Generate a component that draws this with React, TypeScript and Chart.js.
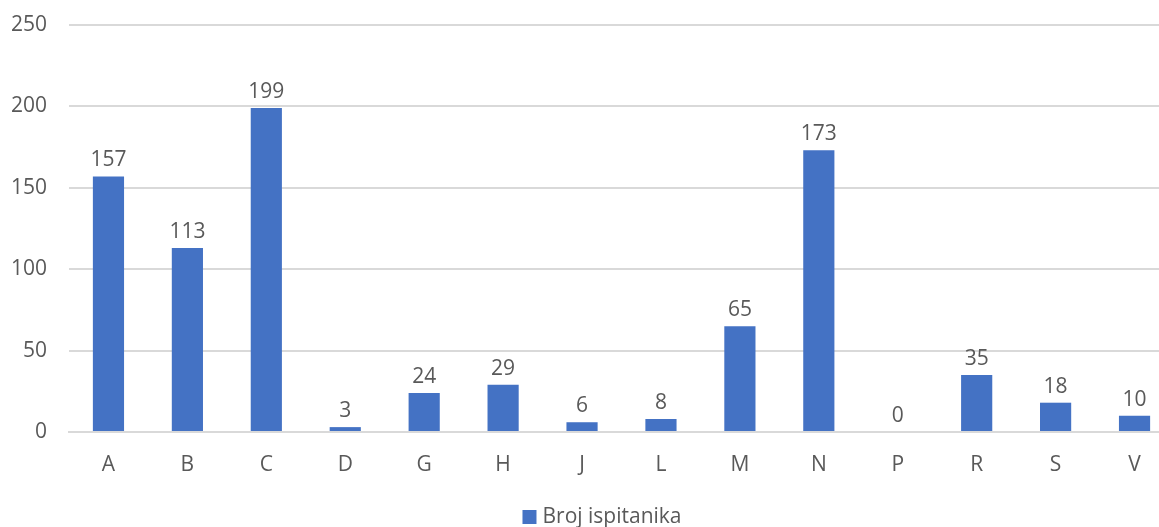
import React, { useEffect, useRef } from "react";
import { Chart, registerables } from "chart.js";

Chart.register(...registerables);

const categories = ["A", "B", "C", "D", "G", "H", "J", "L", "M", "N", "P", "R", "S", "V"];
const values = [157, 113, 199, 3, 24, 29, 6, 8, 65, 173, 0, 35, 18, 10];
const seriesName = "Broj ispitanika";
const yTicks = [0, 50, 100, 150, 200, 250];

const FONT = "'Open Sans', sans-serif";
const TEXT = "#595959";
const BAR = "#4472C4";
const FS = 21;

const dataLabels = {
  id: "dataLabels",
  afterDatasetsDraw(chart: any) {
    const ctx = chart.ctx;
    const meta = chart.getDatasetMeta(0);
    ctx.save();
    ctx.font = `${FS}px ${FONT}`;
    ctx.fillStyle = TEXT;
    ctx.textAlign = "center";
    ctx.textBaseline = "alphabetic";
    meta.data.forEach((bar: any, i: number) => {
      ctx.fillText(String(values[i]), bar.x, bar.y - 10);
    });
    ctx.restore();
  },
};

const customLegend = {
  id: "customLegend",
  afterDraw(chart: any) {
    const ctx = chart.ctx;
    ctx.save();
    ctx.font = `${FS}px ${FONT}`;
    const w = ctx.measureText(seriesName).width;
    const box = 14;
    const gap = 6;
    const total = box + gap + w;
    const cx = chart.width / 2;
    const x0 = cx - total / 2;
    const baseY = 523;
    ctx.fillStyle = BAR;
    ctx.fillRect(x0, 510, box, box);
    ctx.fillStyle = TEXT;
    ctx.textAlign = "left";
    ctx.textBaseline = "alphabetic";
    ctx.fillText(seriesName, x0 + box + gap, baseY);
    ctx.restore();
  },
};

export default function App() {
  const ref = useRef<HTMLCanvasElement>(null);
  useEffect(() => {
    document.body.style.margin = "0";
    const chart = new Chart(ref.current!, {
      type: "bar",
      data: {
        labels: categories,
        datasets: [
          {
            label: seriesName,
            data: values,
            backgroundColor: BAR,
            barPercentage: 0.395,
            categoryPercentage: 1,
          },
        ],
      },
      options: {
        animation: false,
        responsive: false,
        layout: { padding: { top: 25, right: 30, left: 0, bottom: 0 } },
        plugins: {
          legend: { display: false },
          tooltip: { enabled: false },
        },
        scales: {
          x: {
            grid: { display: false, drawTicks: false },
            border: { color: "#D9D9D9", width: 2 },
            ticks: { font: { family: FONT, size: FS }, color: TEXT, padding: 20 },
            afterFit: (s: any) => {
              s.height = 95;
              s.paddingLeft = 0;
              s.paddingRight = 0;
            },
          },
          y: {
            min: 0,
            max: 250,
            afterBuildTicks: (s: any) => {
              s.ticks = yTicks.map((v) => ({ value: v }));
            },
            grid: { color: "#D9D9D9", lineWidth: 2, drawTicks: false },
            border: { display: false },
            ticks: { font: { family: FONT, size: FS }, color: TEXT, padding: 22 },
            afterFit: (s: any) => {
              s.width = 69;
              s.paddingTop = 0;
              s.paddingBottom = 0;
            },
          },
        },
      },
      plugins: [dataLabels, customLegend],
    });
    return () => chart.destroy();
  }, []);
  return (
    <div style={{ width: 1159, height: 527, overflow: "hidden", position: "relative" }}>
      <canvas ref={ref} width={1204} height={527} style={{ display: "block" }} />
    </div>
  );
}
